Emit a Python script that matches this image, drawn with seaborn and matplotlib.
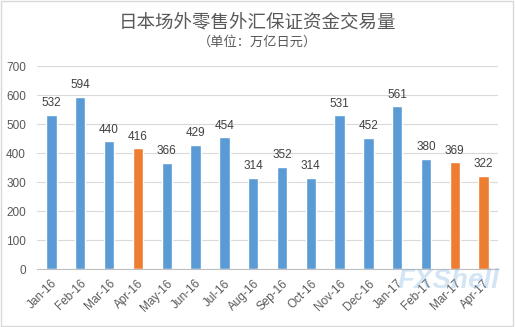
import matplotlib
matplotlib.use("Agg")
import matplotlib.pyplot as plt
import seaborn as sns
import pandas as pd
import numpy as np
from matplotlib.patches import Rectangle

months = ["Jan-16", "Feb-16", "Mar-16", "Apr-16", "May-16", "Jun-16", "Jul-16", "Aug-16",
          "Sep-16", "Oct-16", "Nov-16", "Dec-16", "Jan-17", "Feb-17", "Mar-17", "Apr-17"]
volume = [532, 594, 440, 416, 366, 429, 454, 314, 352, 314, 531, 452, 561, 380, 369, 322]
highlight = [False, False, False, True, False, False, False, False,
             False, False, False, False, False, False, True, True]
title = "日本场外零售外汇保证资金交易量"
subtitle = "（单位：万亿日元）"

df = pd.DataFrame({"month": months, "volume": volume,
                   "group": ["hl" if h else "base" for h in highlight]})

sns.set_theme(style="white")
plt.rcParams["font.family"] = ["Liberation Sans", "Noto Sans CJK SC", "DejaVu Sans"]

BLUE = "#5B9BD5"
ORANGE = "#ED7D31"
TXT = "#595959"

fig = plt.figure(figsize=(5.15, 3.27), dpi=100)
ax = fig.add_axes([0.072, 0.177, 0.895, 0.621])

sns.barplot(data=df, x="month", y="volume", hue="group", order=months,
            palette={"base": BLUE, "hl": ORANGE}, dodge=False, width=0.36,
            legend=False, ax=ax, saturation=1)

ax.set_ylim(0, 700)
ax.set_xlim(-0.5, len(months) - 0.5)
ax.set_yticks(np.arange(0, 701, 100))
ax.yaxis.grid(True, color="#D9D9D9", lw=0.8)
ax.set_axisbelow(True)
ax.set_xlabel("")
ax.set_ylabel("")
for s in ["top", "right", "left"]:
    ax.spines[s].set_visible(False)
ax.spines["bottom"].set_color("#BFBFBF")
ax.spines["bottom"].set_linewidth(0.8)

ax.tick_params(axis="y", length=0, labelsize=8.5, colors=TXT, pad=8)
ax.set_xticks(range(len(months)))
ax.set_xticklabels(months, rotation=45, ha="right", rotation_mode="anchor")
ax.tick_params(axis="x", which="major", length=0, labelsize=8.5, colors=TXT, pad=6)
ax.set_xticks(np.arange(-0.5, len(months), 1), minor=True)
ax.tick_params(axis="x", which="minor", length=5, color="#BFBFBF", width=0.8)

for i, v in enumerate(volume):
    ax.annotate(str(v), (i, v), xytext=(0, 4), textcoords="offset points",
                ha="center", va="bottom", fontsize=8.5, color="#404040")

fig.text(0.5, 0.927, title, ha="center", va="center", fontsize=13.3,
         color=TXT, family=["Noto Sans CJK SC", "DejaVu Sans"])
fig.text(0.5, 0.872, subtitle, ha="center", va="center", fontsize=9.5,
         color=TXT, family=["Noto Sans CJK SC", "DejaVu Sans"])

# faint watermark
fig.text(0.87, 0.14, "FXShell", ha="center", va="center", fontsize=20,
         fontstyle="italic", fontweight="bold", color="#6FA8DC", alpha=0.3)

fig.patches.append(Rectangle((0.002, 0.003), 0.995, 0.994, transform=fig.transFigure,
                             fill=False, edgecolor="#D9D9D9", lw=1))

fig.savefig("out.png", dpi=100)
